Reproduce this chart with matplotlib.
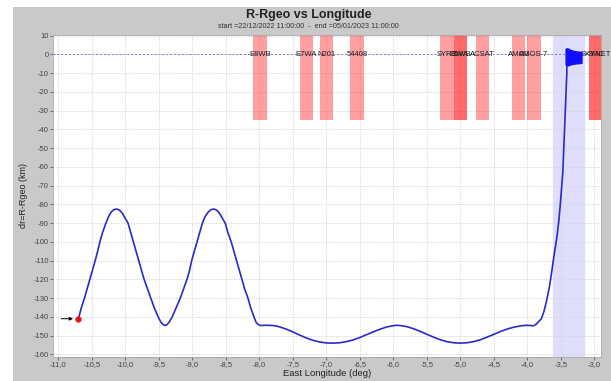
import matplotlib
matplotlib.use('Agg')
import matplotlib.pyplot as plt
from matplotlib.patches import Rectangle
from matplotlib.ticker import FuncFormatter, MultipleLocator

plt.rcParams['font.family'] = ['Liberation Sans', 'DejaVu Sans']

# drift track (east longitude deg, dr km)
track_lon = [-10.70, -10.66, -10.61, -10.57, -10.53, -10.49, -10.45, -10.41, -10.38, -10.34,
             -10.29, -10.25, -10.21, -10.17, -10.13, -10.09, -10.05, -10.00, -9.96, -9.92,
             -9.88, -9.84, -9.80, -9.76, -9.72, -9.67, -9.62, -9.57, -9.51, -9.47,
             -9.44, -9.41, -9.38, -9.35, -9.30, -9.24, -9.18, -9.13, -9.08, -9.04,
             -9.01, -8.97, -8.93, -8.89, -8.85, -8.81, -8.76, -8.72, -8.68, -8.64,
             -8.60, -8.55, -8.51, -8.47, -8.42, -8.38, -8.34, -8.30, -8.26, -8.22,
             -8.17, -8.13, -8.08, -8.05, -8.02, -7.98, -7.92, -7.85, -7.77, -7.70,
             -7.60, -7.50, -7.40, -7.30, -7.20, -7.10, -7.00, -6.90, -6.80, -6.70,
             -6.60, -6.50, -6.40, -6.30, -6.20, -6.10, -6.00, -5.95, -5.90, -5.80,
             -5.70, -5.60, -5.50, -5.40, -5.30, -5.20, -5.10, -5.00, -4.90, -4.80,
             -4.70, -4.60, -4.50, -4.40, -4.30, -4.20, -4.10, -4.02, -3.95, -3.91,
             -3.87, -3.83, -3.79, -3.75, -3.71, -3.67, -3.64, -3.60, -3.56, -3.53,
             -3.51, -3.49, -3.47, -3.46, -3.45, -3.44, -3.43, -3.42, -3.41, -3.41]
track_dr = [-141, -135.5, -130, -125, -120, -115, -110, -104.5, -100, -95,
            -90, -86.5, -84, -82.8, -82.5, -83, -84.5, -87.5, -90, -95,
            -100, -105, -110, -115, -120, -125, -130, -135, -140, -142.8,
            -144, -144.6, -144.2, -143, -140, -135, -130, -125, -120, -115,
            -110, -105, -100, -95, -90, -86.5, -84, -82.8, -82.5, -83,
            -84.5, -87.5, -90, -95, -100, -105, -110, -115, -120, -125,
            -130, -135, -140, -142.8, -144, -144.6, -144.5, -144.5, -144.7, -145.3,
            -146.5, -148, -149.7, -151.2, -152.5, -153.4, -153.9, -154, -153.8, -153.2,
            -152.3, -151, -149.5, -148, -146.6, -145.4, -144.7, -144.5, -144.6, -145.2,
            -146.3, -147.7, -149.3, -150.8, -152.2, -153.2, -153.8, -154, -153.8, -153.2,
            -152.2, -150.8, -149.3, -147.8, -146.5, -145.5, -144.8, -144.5, -144.6, -144.8,
            -144, -142.5, -141, -137, -131, -124, -117, -107, -98, -89,
            -81, -72, -63, -54, -45.5, -36, -27.7, -18, -9.9, 2.5]

# station keeping wiggle at the end of the track (envelope)
blob_lon = [-3.43, -3.40, -3.36, -3.30, -3.24, -3.19]
blob_top = [3.0, 3.3, 2.5, 1.8, 1.5, 1.4]
blob_bot = [-5.5, -6.0, -5.5, -5.0, -4.8, -4.6]

start_lon, start_dr = -10.70, -141

# neighbouring satellites
sat_names = ['E8WB', 'E7WA', 'N201', '54408', 'SYR3', 'E5WB', 'SWA', 'ACSAT',
             'AMO3', 'AMOS-7', 'SMC', 'SKYNET']
sat_lon = [-7.99, -7.30, -7.00, -6.54, -5.20, -5.00, -5.00, -4.67,
           -4.13, -3.90, -2.98, -2.98]

target_band = (-3.62, -3.16)

fig = plt.figure(figsize=(6.11, 3.81), dpi=100)
fig.patch.set_facecolor('white')
fig.add_artist(Rectangle((13 / 611, 0), 1, 1 - 7 / 381, transform=fig.transFigure,
                         facecolor='#c9c9c9', edgecolor='none', zorder=-10))

ax = fig.add_axes([53 / 611, 1 - 357 / 381, 548 / 611, 322 / 381])
ax.set_facecolor('white')
ax.set_axisbelow(True)

ax.axvspan(target_band[0], target_band[1], color='#dedefa', zorder=0)
ax.bar(sat_lon, 50, width=0.2, bottom=-35, color='#ff2a2a', alpha=0.45,
       linewidth=0, zorder=1)
ax.axhline(0, color='#8080c8', lw=0.7, ls=(0, (2, 2)), zorder=2)
for name, lon in zip(sat_names, sat_lon):
    ax.text(lon, 0, name, ha='center', va='center', fontsize=5.5, color='#202020', zorder=3)

ax.plot(track_lon, track_dr, color='#2a2ac4', lw=1.2, zorder=4)
ax.fill_between(blob_lon, blob_bot, blob_top, color='#1010ff', lw=0.8,
                edgecolor='#1010ff', zorder=4)
ax.annotate('', xy=(start_lon - 0.04, start_dr), xytext=(-11.0, start_dr),
            arrowprops=dict(arrowstyle='-|>', color='black', lw=0.7,
                            mutation_scale=5), zorder=5)
ax.plot([start_lon], [start_dr], 'o', color='#ee1111', ms=3.5, zorder=6)

ax.set_xlim(-11.08, -2.90)
ax.set_ylim(-161.4, 10.3)
ax.xaxis.set_major_locator(MultipleLocator(0.5))
ax.yaxis.set_major_locator(MultipleLocator(10))
ax.xaxis.set_major_formatter(FuncFormatter(lambda v, p: f'{v:.1f}'.replace('.', ',')))
ax.yaxis.set_major_formatter(FuncFormatter(lambda v, p: f'{v:.0f}'))
ax.grid(True, color='#d2d2d2', lw=0.6, ls=(0, (1.5, 1.5)))
ax.tick_params(labelsize=5.5, colors='#444444', length=2, width=0.5, pad=1)
for s in ax.spines.values():
    s.set_color('#a8a8a8')
    s.set_linewidth(0.6)

ax.set_xlabel('East Longitude (deg)', fontsize=6.8, color='#222222', labelpad=0.5)
ax.set_ylabel('dr=R-Rgeo (km)', fontsize=6.5, color='#222222', labelpad=4)

fig.text(0.505, 1 - 15 / 381, 'R-Rgeo vs Longitude', ha='center', va='center',
         fontsize=9, fontweight='bold', color='#222222')
fig.text(0.505, 1 - 27 / 381, 'start =22/12/2022 11:00:00  -  end =05/01/2023 11:00:00',
         ha='center', va='center', fontsize=5.2, color='#333333')

fig.savefig('out.png', dpi=100)
